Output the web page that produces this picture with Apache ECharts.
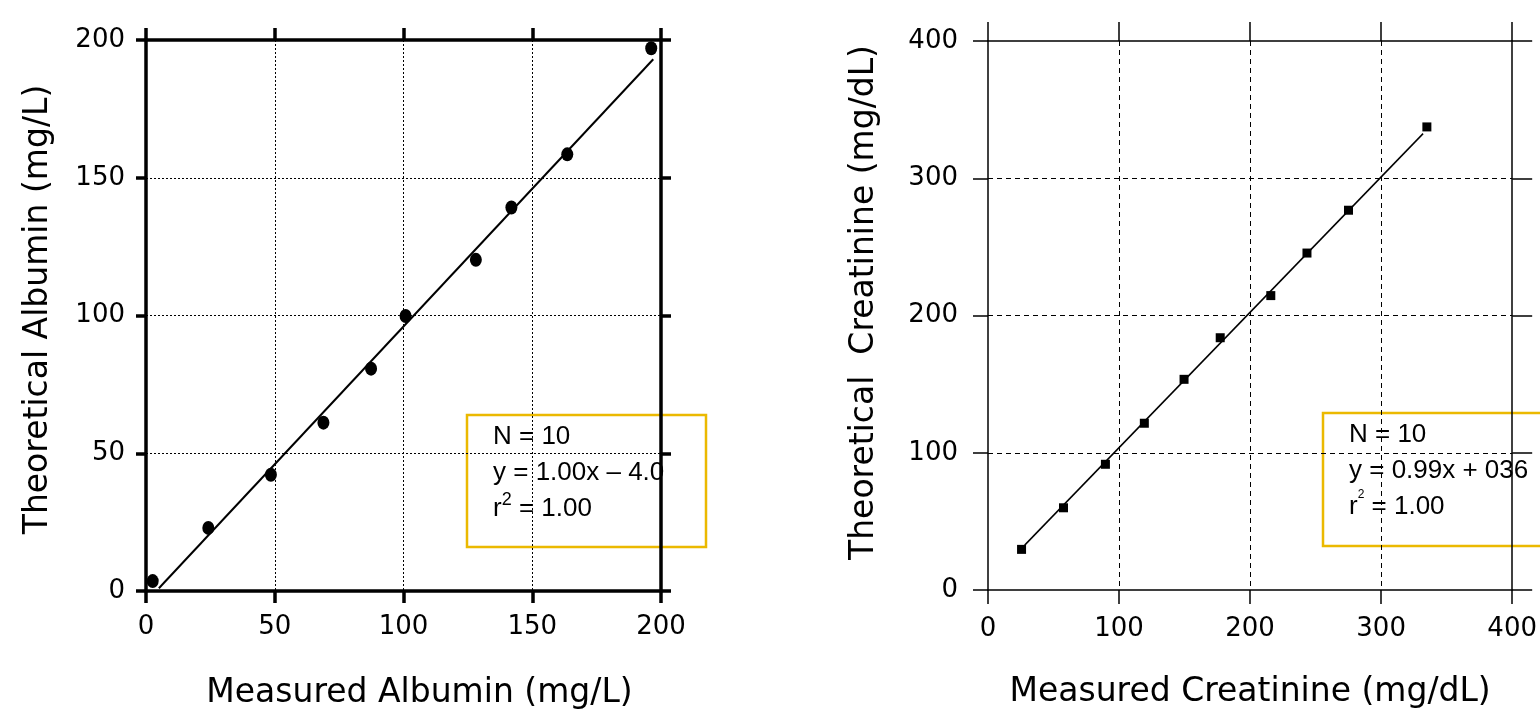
<!DOCTYPE html>
<html>
<head>
<meta charset="utf-8">
<title>Albumin / Creatinine linearity</title>
<script src="https://cdn.jsdelivr.net/npm/echarts@6/dist/echarts.min.js"></script>
<style>
  html, body { margin: 0; padding: 0; background: #fff; }
  #chart { width: 1540px; height: 719px; }
</style>
</head>
<body>
<div id="chart"></div>
<script>
  // ---- data ----
  var albuminMeasured    = [2.6, 24.2, 48.5, 68.9, 87.4, 100.8, 128.1, 141.9, 163.6, 196.2];
  var albuminTheoretical = [3.6, 22.9, 42.2, 61.1, 80.7, 99.8, 120.2, 139.2, 158.5, 197.0];
  var albuminFitX = [5, 197];
  var albuminFitY = [1, 193];
  var albuminTicks = [0, 50, 100, 150, 200];
  var albuminStats = ['N = 10', 'y = 1.00x \u2013 4.0', 'r{sup|2} = 1.00'];

  var creatMeasured    = [25.6, 57.6, 89.6, 119.3, 149.6, 177.2, 215.8, 243.4, 275.1, 334.9];
  var creatTheoretical = [29.6, 59.9, 91.6, 121.5, 153.5, 183.8, 214.5, 245.5, 276.7, 337.4];
  var creatFitX = [28, 332];
  var creatFitY = [32.7, 332.5];
  var creatTicks = [0, 100, 200, 300, 400];
  var creatStats = ['N = 10', 'y = 0.99x + 036', 'r{sup|2} = 1.00'];

  var FONT = 'DejaVu Sans';
  var BOX_FONT = 'Liberation Sans';
  var BOX_COLOR = '#EBB900';

  function pairs(xs, ys) {
    return xs.map(function (x, i) { return [x, ys[i]]; });
  }

  // one side of the framed plot: line + outward ticks, optional labels / grid
  function sideAxis(o) {
    var ticks = o.ticks;
    var ax = {
      type: 'value',
      gridIndex: o.grid,
      position: o.position,
      min: ticks[0],
      max: ticks[ticks.length - 1],
      interval: ticks[1] - ticks[0],
      axisLine: { show: true, onZero: false, lineStyle: { color: '#000', width: o.lw } },
      axisTick: { show: true, inside: false, length: o.tickLen, lineStyle: { color: '#000', width: o.lw } },
      axisLabel: { show: !!o.labels, margin: o.labelMargin || 8, color: '#000', fontFamily: FONT, fontSize: 26 },
      splitLine: {
        show: !!o.split, showMinLine: false, showMaxLine: false,
        lineStyle: { color: '#000', width: 1, type: o.dash }
      },
      z: 5
    };
    if (o.name) {
      ax.name = o.name;
      ax.nameLocation = 'middle';
      ax.nameGap = o.nameGap;
      ax.nameTextStyle = { color: '#000', fontFamily: FONT, fontSize: 33, padding: o.namePad || 0 };
    }
    return ax;
  }

  function statsBox(x, y, w, h, lines, supSize) {
    return {
      type: 'group',
      z: 50,
      children: [
        {
          type: 'rect',
          shape: { x: x, y: y, width: w, height: h },
          style: { fill: '#fff', stroke: BOX_COLOR, lineWidth: 2.5 }
        },
        {
          type: 'text',
          x: x + 26,
          y: y + 4,
          style: {
            text: lines.join('\n'),
            fill: '#000',
            font: '26px "' + BOX_FONT + '"',
            lineHeight: 36,
            rich: {
              sup: { fontSize: supSize, fontFamily: BOX_FONT, fill: '#000', verticalAlign: 'top', lineHeight: supSize + 2 }
            }
          }
        }
      ]
    };
  }

  var chart = echarts.init(document.getElementById('chart'));

  chart.setOption({
    backgroundColor: '#fff',
    animation: false,
    grid: [
      { left: 146, top: 40, width: 515, height: 551 },
      { left: 988, top: 41, width: 532, height: 549 }
    ],
    xAxis: [
      sideAxis({ grid: 0, position: 'bottom', ticks: albuminTicks, lw: 3.5, tickLen: 12, labels: true, labelMargin: 23,
                 split: true, dash: [2, 2], name: 'Measured Albumin (mg/L)', nameGap: 86, namePad: [0, 0, 0, 32] }),
      sideAxis({ grid: 0, position: 'top', ticks: albuminTicks, lw: 3.5, tickLen: 12 }),
      sideAxis({ grid: 1, position: 'bottom', ticks: creatTicks, lw: 1.5, tickLen: 14, labels: true, labelMargin: 26,
                 split: true, dash: [5, 4], name: 'Measured Creatinine (mg/dL)', nameGap: 86 }),
      sideAxis({ grid: 1, position: 'top', ticks: creatTicks, lw: 1.5, tickLen: 19 })
    ],
    yAxis: [
      sideAxis({ grid: 0, position: 'left', ticks: albuminTicks, lw: 3.5, tickLen: 10, labels: true, labelMargin: 21,
                 split: true, dash: [2, 2], name: 'Theoretical Albumin (mg/L)', nameGap: 91, namePad: [0, 0, 0, 12] }),
      sideAxis({ grid: 0, position: 'right', ticks: albuminTicks, lw: 3.5, tickLen: 10 }),
      sideAxis({ grid: 1, position: 'left', ticks: creatTicks, lw: 1.5, tickLen: 15, labels: true, labelMargin: 30,
                 split: true, dash: [5, 4], name: 'Theoretical  Creatinine (mg/dL)', nameGap: 107, namePad: [0, 0, 0, 26] }),
      sideAxis({ grid: 1, position: 'right', ticks: creatTicks, lw: 1.5, tickLen: 20 })
    ],
    series: [
      {
        name: 'Albumin fit',
        type: 'line',
        xAxisIndex: 0, yAxisIndex: 0,
        data: pairs(albuminFitX, albuminFitY),
        symbol: 'none',
        lineStyle: { color: '#000', width: 2 },
        z: 3
      },
      {
        name: 'Albumin',
        type: 'scatter',
        xAxisIndex: 0, yAxisIndex: 0,
        data: pairs(albuminMeasured, albuminTheoretical),
        symbol: 'circle',
        symbolSize: [12, 14],
        itemStyle: { color: '#000', opacity: 1 },
        z: 4
      },
      {
        name: 'Creatinine fit',
        type: 'line',
        xAxisIndex: 2, yAxisIndex: 2,
        data: pairs(creatFitX, creatFitY),
        symbol: 'none',
        lineStyle: { color: '#000', width: 1.5 },
        z: 3
      },
      {
        name: 'Creatinine',
        type: 'scatter',
        xAxisIndex: 2, yAxisIndex: 2,
        data: pairs(creatMeasured, creatTheoretical),
        symbol: 'rect',
        symbolSize: 9,
        itemStyle: { color: '#000', opacity: 1 },
        z: 4
      }
    ],
    graphic: [
      statsBox(467, 415, 239, 132, albuminStats, 18),
      statsBox(1323, 413, 260, 133, creatStats, 12)
    ]
  });

  window.addEventListener('resize', function () { chart.resize(); });
</script>
</body>
</html>
